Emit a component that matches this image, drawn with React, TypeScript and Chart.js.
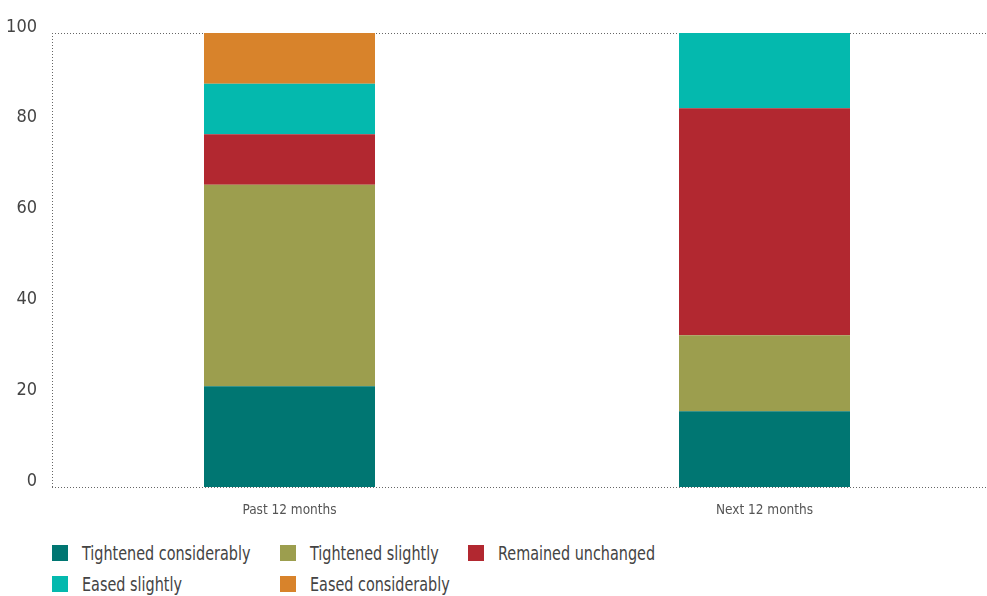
import React, { useEffect, useRef } from "react";
import { Chart, registerables } from "chart.js";

Chart.register(...registerables);

const categories = ["Past 12 months", "Next 12 months"];
const seriesNames = [
  "Tightened considerably",
  "Tightened slightly",
  "Remained unchanged",
  "Eased slightly",
  "Eased considerably",
];
const tightenedConsiderably = [22.2, 16.7];
const tightenedSlightly = [44.4, 16.7];
const remainedUnchanged = [11.1, 50.0];
const easedSlightly = [11.1, 16.6];
const easedConsiderably = [11.2, 0];
const yTicks = [0, 20, 40, 60, 80, 100];

const colors = ["#007672", "#9c9e4e", "#b22830", "#04b9ae", "#d8832b"];
const seriesValues = [
  tightenedConsiderably,
  tightenedSlightly,
  remainedUnchanged,
  easedSlightly,
  easedConsiderably,
];

const FONT = '"Liberation Sans Narrow", "DejaVu Sans Condensed", "Roboto", sans-serif';

// Dotted frame: baseline, top line at 100 and the left axis line
const dottedFrame = {
  id: "dottedFrame",
  beforeDatasetsDraw(chart: any) {
    const { ctx, chartArea, scales } = chart;
    const y = scales.y;
    ctx.save();
    ctx.strokeStyle = "#666";
    ctx.lineWidth = 1;
    ctx.setLineDash([1, 2]);
    ctx.beginPath();
    [0, 100].forEach((v) => {
      const py = Math.round(y.getPixelForValue(v)) + 0.5;
      ctx.moveTo(chartArea.left, py);
      ctx.lineTo(chartArea.right, py);
    });
    const px = Math.round(chartArea.left) + 0.5;
    ctx.moveTo(px, chartArea.top);
    ctx.lineTo(px, chartArea.bottom);
    ctx.stroke();
    ctx.restore();
  },
};

export default function App() {
  const ref = useRef<HTMLCanvasElement>(null);

  useEffect(() => {
    if (!ref.current) return;
    const chart = new Chart(ref.current, {
      type: "bar",
      data: {
        labels: categories,
        datasets: seriesNames.map((name, i) => ({
          label: name,
          data: seriesValues[i],
          backgroundColor: colors[i],
          borderWidth: 0,
          barPercentage: 0.36,
          categoryPercentage: 1,
        })),
      },
      options: {
        animation: false,
        responsive: true,
        maintainAspectRatio: false,
        layout: { padding: { top: 33, right: 8, left: 0, bottom: 0 } },
        plugins: {
          legend: { display: false },
          tooltip: { enabled: false },
        },
        scales: {
          x: {
            stacked: true,
            grid: { display: false, drawTicks: false },
            border: { display: false },
            ticks: {
              color: "#555",
              font: { family: FONT, size: 13.5 },
              padding: 15,
            },
            afterFit: (scale: any) => {
              scale.height = 38;
            },
          },
          y: {
            stacked: true,
            min: 0,
            max: 100,
            afterBuildTicks: (scale: any) => {
              scale.ticks = yTicks.map((v) => ({ value: v }));
            },
            grid: { display: false, drawTicks: false },
            border: { display: false },
            ticks: {
              color: "#444",
              font: { family: FONT, size: 18 },
              padding: 15,
              labelOffset: -6,
            },
            afterFit: (scale: any) => {
              scale.width = 52;
            },
          },
        },
      },
      plugins: [dottedFrame],
    });
    return () => chart.destroy();
  }, []);

  const columns = [52, 280, 468];

  return (
    <div
      style={{
        position: "fixed",
        left: 0,
        top: 0,
        width: 987,
        height: 596,
        overflow: "hidden",
        background: "#fff",
      }}
    >
      <div style={{ position: "absolute", left: 0, top: 0, width: 1010, height: 525 }}>
        <canvas ref={ref} />
      </div>
      {seriesNames.map((name, i) => {
        const col = i % 3;
        const row = Math.floor(i / 3);
        return (
          <div
            key={name}
            style={{
              position: "absolute",
              left: columns[col],
              top: 541 + row * 31,
              height: 24,
              display: "flex",
              alignItems: "center",
              fontFamily: FONT,
              fontSize: 20,
              color: "#444",
              whiteSpace: "nowrap",
            }}
          >
            <span
              style={{
                display: "inline-block",
                width: 16,
                height: 16,
                background: colors[i],
                marginRight: 14,
                flex: "none",
              }}
            />
            <span
              style={{
                display: "inline-block",
                transform: "scaleX(0.8)",
                transformOrigin: "left center",
              }}
            >
              {name}
            </span>
          </div>
        );
      })}
    </div>
  );
}
